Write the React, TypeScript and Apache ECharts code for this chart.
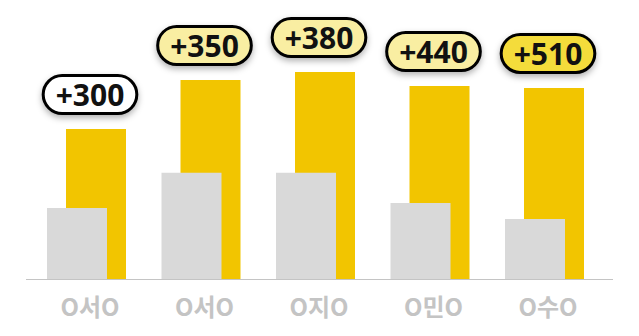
import React, { useEffect, useRef } from "react";
import * as echarts from "echarts";

const categories = ["O서O", "O서O", "O지O", "O민O", "O수O"];
const beforeValues = [268, 401, 401, 287, 226];
const afterValues = [566, 751, 781, 728, 721];
const increaseLabels = ["+300", "+350", "+380", "+440", "+510"];
const pillColors = ["#ffffff", "#f9eea2", "#f9eea2", "#f9eea2", "#f4dc3a"];

export default function App() {
  const ref = useRef<HTMLDivElement>(null);
  useEffect(() => {
    if (!ref.current) return;
    const chart = echarts.init(ref.current, null, { renderer: "svg" });
    chart.setOption({
      animation: false,
      backgroundColor: "#ffffff",
      grid: { left: 29.25, right: 37.25, top: 67, bottom: 57 },
      xAxis: {
        type: "category",
        data: categories,
        boundaryGap: true,
        axisLine: { show: false },
        axisTick: { show: false },
        axisLabel: {
          color: "#c4c4c4",
          fontSize: 24,
          fontWeight: "bold",
          fontFamily: "Noto Sans CJK KR",
          margin: 14,
          padding: [0, 0, 0, 7],
        },
      },
      yAxis: {
        type: "value",
        min: 0,
        max: 800,
        show: false,
        splitLine: { show: false },
      },
      graphic: [
        {
          type: "line",
          shape: { x1: 26, y1: 279.5, x2: 613, y2: 279.5 },
          style: { stroke: "#c4c4c4", lineWidth: 1 },
          z: 10,
        },
      ],
      series: [
        {
          type: "bar",
          name: "before",
          data: beforeValues,
          barWidth: 60,
          barGap: "-68.33%",
          itemStyle: { color: "#d9d9d9" },
          z: 3,
        },
        {
          type: "bar",
          name: "after",
          barWidth: 60,
          data: afterValues.map((v, i) => ({
            value: v,
            label: {
              show: true,
              position: "top",
              distance: 17,
              offset: [-6, 0],
              formatter: increaseLabels[i],
              color: "#111111",
              fontSize: 30,
              lineHeight: 30,
              fontWeight: "bold",
              fontFamily: "Noto Sans",
              backgroundColor: pillColors[i],
              borderColor: "#000000",
              borderWidth: 3,
              borderRadius: 18,
              padding: [2.5, 11, 2.5, 11],
              shadowColor: "rgba(0,0,0,0.3)",
              shadowBlur: 6,
              shadowOffsetY: 3,
            },
          })),
          itemStyle: { color: "#f2c500" },
          z: 2,
        },
      ],
    });
    return () => chart.dispose();
  }, []);
  return (
    <div
      ref={ref}
      style={{ position: "fixed", left: 0, top: 0, width: 639, height: 336 }}
    />
  );
}
